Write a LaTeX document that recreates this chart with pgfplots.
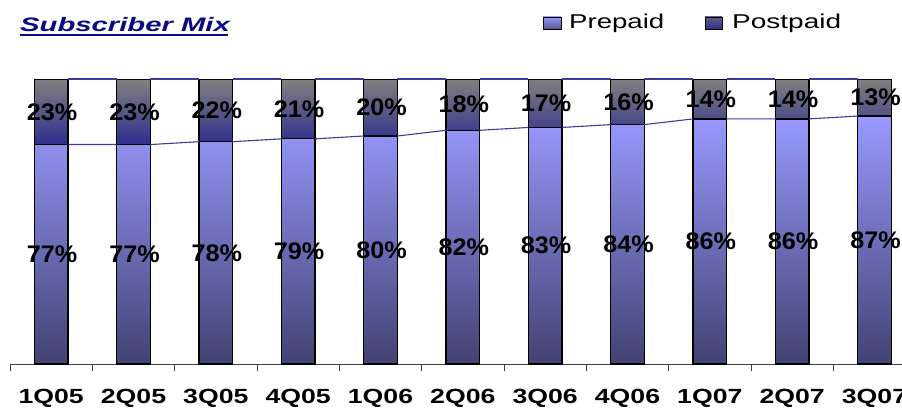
\documentclass[border=0pt]{standalone}
\usepackage{fontspec}
\setmainfont{Liberation Sans}
\usepackage{pgfplots}
\usepackage{pgfplotstable}
\usepackage{graphicx}
\pgfplotsset{compat=1.18}

\definecolor{preTop}{RGB}{153,153,255}
\definecolor{preBot}{RGB}{66,66,114}
\definecolor{postTop}{RGB}{128,128,128}
\definecolor{postBot}{RGB}{46,46,142}
\definecolor{serline}{RGB}{60,60,160}
\definecolor{titleblue}{RGB}{10,10,130}

\pgfplotstableread{
q pre post
0 77 23
1 77 23
2 78 22
3 79 21
4 80 20
5 82 18
6 83 17
7 84 16
8 86 14
9 86 14
10 87 13
}\mixdata

\newcommand{\tl}[1]{\scalebox{1.3}[1]{#1}}

\pgfplotsset{
  common/.style={
    at={(10pt,44pt)},
    scale only axis,
    width=892pt, height=285pt,
    xmin=-0.5, xmax=10.334,
    ymin=0, ymax=100,
  },
  pctlabels/.style={
    only marks, mark=none, point meta=explicit,
    nodes near coords={\scalebox{1.05}[1]{\pgfmathprintnumber[assume math mode=true]{\pgfplotspointmeta}\%}},
    nodes near coords style={anchor=center, xshift=1pt, font=\fontsize{24}{28}\selectfont\bfseries, text=black},
  }
}

\begin{document}
\begin{tikzpicture}
\useasboundingbox (0,0) rectangle (902pt,408pt);

% bars
\begin{axis}[common,
  ybar stacked,
  bar width=0.407,
  axis x line*=bottom,
  axis y line=none,
  x axis line style={black!75, line width=0.8pt},
  xtick={0,...,10},
  xticklabels={\tl{1Q05},\tl{2Q05},\tl{3Q05},\tl{4Q05},\tl{1Q06},\tl{2Q06},\tl{3Q06},\tl{4Q06},\tl{1Q07},\tl{2Q07},\tl{3Q07}},
  major tick length=0pt,
  minor xtick={-0.5,0.5,...,9.5},
  minor tick length=7pt,
  tick align=outside,
  minor tick style={black!75, line width=0.8pt},
  xticklabel style={anchor=base, yshift=-39.5pt, font=\fontsize{20.5}{24}\selectfont\bfseries},
]
\addplot[draw=black, line width=1.2pt, top color=preTop, bottom color=preBot] table[x=q, y=pre] {\mixdata};
\addplot[draw=black, line width=1.2pt, top color=postTop, bottom color=postBot] table[x=q, y=post] {\mixdata};
\end{axis}

% series lines and labels
\begin{axis}[common,
  hide axis, clip=false,
  unbounded coords=jump,
]
\addplot[serline, line width=1.1pt, no marks] coordinates {
 (0.2035,77) (0.7965,77) (1,nan)
 (1.2035,77) (1.7965,78) (2,nan)
 (2.2035,78) (2.7965,79) (3,nan)
 (3.2035,79) (3.7965,80) (4,nan)
 (4.2035,80) (4.7965,82) (5,nan)
 (5.2035,82) (5.7965,83) (6,nan)
 (6.2035,83) (6.7965,84) (7,nan)
 (7.2035,84) (7.7965,86) (8,nan)
 (8.2035,86) (8.7965,86) (9,nan)
 (9.2035,86) (9.7965,87)
};
\addplot[serline, line width=1.1pt, no marks] coordinates {
 (0.2035,100) (0.7965,100) (1,nan)
 (1.2035,100) (1.7965,100) (2,nan)
 (2.2035,100) (2.7965,100) (3,nan)
 (3.2035,100) (3.7965,100) (4,nan)
 (4.2035,100) (4.7965,100) (5,nan)
 (5.2035,100) (5.7965,100) (6,nan)
 (6.2035,100) (6.7965,100) (7,nan)
 (7.2035,100) (7.7965,100) (8,nan)
 (8.2035,100) (8.7965,100) (9,nan)
 (9.2035,100) (9.7965,100)
};
\addplot[pctlabels] table[x=q, y expr=\thisrow{pre}/2, meta=pre] {\mixdata};
\addplot[pctlabels] table[x=q, y expr=\thisrow{pre}+\thisrow{post}/2, meta=post] {\mixdata};
\end{axis}

% title
\node[anchor=base west, inner sep=0pt, text=titleblue,
  font=\fontsize{19.5}{22}\selectfont\bfseries\itshape] at (20pt,376pt) {\scalebox{1.5}[1]{Subscriber Mix}};
\draw[titleblue, line width=2pt] (20pt,373pt) -- (228pt,373pt);

% legend
\draw[black, line width=0.8pt, top color=preTop, bottom color=preBot!80!preTop] (543pt,379pt) rectangle (561pt,391pt);
\node[anchor=base west, inner sep=0pt, font=\fontsize{20}{22}\selectfont] at (569pt,379pt) {\scalebox{1.38}[1]{Prepaid}};
\draw[black, line width=0.8pt, top color=postTop!60!postBot, bottom color=postBot] (705pt,379pt) rectangle (722pt,391pt);
\node[anchor=base west, inner sep=0pt, font=\fontsize{20}{22}\selectfont] at (732pt,379pt) {\scalebox{1.4}[1]{Postpaid}};
\end{tikzpicture}
\end{document}
